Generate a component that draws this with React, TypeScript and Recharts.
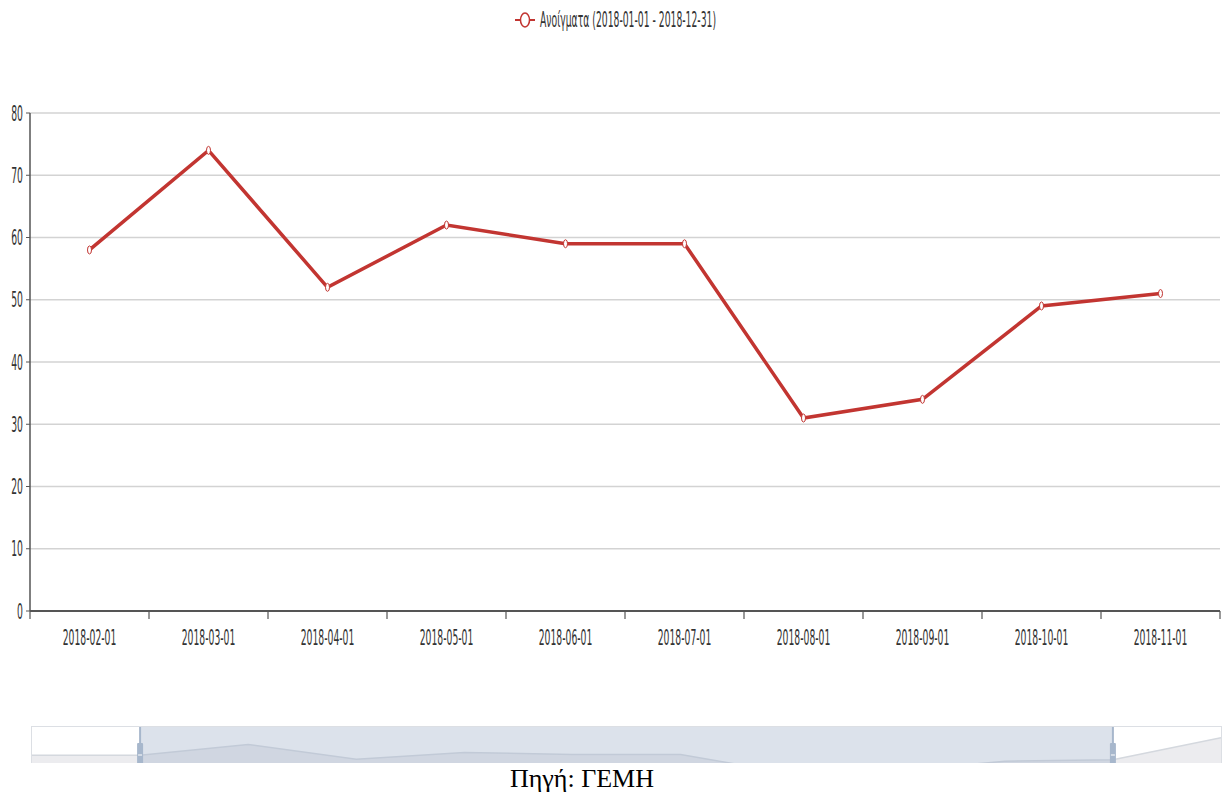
import React from "react";
import {
  LineChart,
  Line,
  XAxis,
  YAxis,
  CartesianGrid,
  Legend,
  AreaChart,
  Area,
  ReferenceArea,
  ReferenceLine,
} from "recharts";

const months = [
  "2018-01-01",
  "2018-02-01",
  "2018-03-01",
  "2018-04-01",
  "2018-05-01",
  "2018-06-01",
  "2018-07-01",
  "2018-08-01",
  "2018-09-01",
  "2018-10-01",
  "2018-11-01",
  "2018-12-01",
];
const openings = [58, 58, 74, 52, 62, 59, 59, 31, 34, 49, 51, 84];
const yTicks = [0, 10, 20, 30, 40, 50, 60, 70, 80];
const zoomStart = "2018-02-01";
const zoomEnd = "2018-11-01";

const allData = months.map((date, i) => ({ date, value: openings[i] }));
const shown = allData.slice(months.indexOf(zoomStart), months.indexOf(zoomEnd) + 1);

const RED = "#c23531";
const AXIS = "#555";
const FONT = "'DejaVu Sans', sans-serif";
const SQUASH = 0.44;

// the source screenshot is squeezed sideways, so text is narrowed the same way.
// tick marks sit on the band edges, the label in the middle of the band
const XTick = (p: any) => {
  const half = p.payload.offset || p.width / p.visibleTicksCount / 2;
  const last = p.index === p.visibleTicksCount - 1;
  return (
    <g>
      <line x1={p.x - half} y1={p.y} x2={p.x - half} y2={p.y + 8} stroke={AXIS} strokeWidth={1.2} />
      {last && (
        <line x1={p.x + half} y1={p.y} x2={p.x + half} y2={p.y + 8} stroke={AXIS} strokeWidth={1.2} />
      )}
      <text
        transform={`translate(${p.x},${p.y + 34}) scale(${SQUASH},1)`}
        textAnchor="middle"
        fill="#333"
        fontSize={21}
        fontFamily={FONT}
      >
        {p.payload.value}
      </text>
    </g>
  );
};

const YTick = (p: any) => (
  <text
    transform={`translate(${p.x},${p.y + 7.5}) scale(${SQUASH},1)`}
    textAnchor="end"
    fill="#333"
    fontSize={21}
    fontFamily={FONT}
  >
    {p.payload.value}
  </text>
);

const Dot = (p: any) =>
  p.cx == null ? null : (
    <ellipse key={p.index} cx={p.cx} cy={p.cy} rx={2} ry={4} fill="#fff" stroke={RED} strokeWidth={1} />
  );

const LegendContent = () => (
  <svg width={1224} height={34} style={{ display: "block" }}>
    <line x1={515} y1={20} x2={535} y2={20} stroke={RED} strokeWidth={2} />
    <ellipse cx={525} cy={20} rx={4.5} ry={7} fill="#fff" stroke={RED} strokeWidth={1.5} />
    <text
      transform={`translate(540,27) scale(${SQUASH},1)`}
      fill="#333"
      fontSize={21}
      fontFamily={FONT}
    >
      Ανοίγματα (2018-01-01 - 2018-12-31)
    </text>
  </svg>
);

const Handle = (p: any) => {
  const x = p.x1;
  return (
    <g>
      <line x1={x} y1={0} x2={x} y2={69} stroke="#a7b7cc" strokeWidth={2} />
      <rect x={x - 3} y={16} width={6} height={40} rx={1} fill="#a7b7cc" />
      <line x1={x - 2} y1={28} x2={x + 2} y2={28} stroke="#fff" />
      <line x1={x - 2} y1={39} x2={x + 2} y2={39} stroke="#fff" />
    </g>
  );
};

export default function App() {
  return (
    <div style={{ position: "absolute", left: 0, top: 0, width: 1224, height: 798, background: "#fff" }}>
      <LineChart
        width={1224}
        height={726}
        data={shown}
        margin={{ top: 79, right: 4, bottom: 85, left: 0 }}
      >
        <Legend
          verticalAlign="top"
          content={<LegendContent />}
          wrapperStyle={{ top: 0, left: 0, width: 1224 }}
        />
        <CartesianGrid vertical={false} stroke="#d3d3d3" strokeWidth={1.5} />
        <XAxis
          dataKey="date"
          scale="band"
          height={30}
          axisLine={{ stroke: AXIS, strokeWidth: 2 }}
          tickLine={false}
          tickSize={0}
          tickMargin={0}
          interval={0}
          tick={<XTick />}
        />
        <YAxis
          width={30}
          domain={[0, 80]}
          ticks={yTicks}
          tickSize={4}
          tickMargin={3}
          axisLine={{ stroke: AXIS, strokeWidth: 1.5 }}
          tickLine={{ stroke: AXIS }}
          tick={<YTick />}
        />
        <Line
          dataKey="value"
          type="linear"
          stroke={RED}
          strokeWidth={3.5}
          dot={<Dot />}
          isAnimationActive={false}
        />
      </LineChart>
      <div
        style={{
          position: "absolute",
          left: 31,
          top: 726,
          width: 1191,
          height: 69,
          boxSizing: "border-box",
          border: "1px solid #dcdfe4",
        }}
      >
        <AreaChart
          width={1189}
          height={67}
          data={allData}
          margin={{ top: 0, right: 0, bottom: 0, left: 0 }}
        >
          <XAxis dataKey="date" hide />
          <YAxis domain={[0, 100]} hide />
          <Area
            dataKey="value"
            type="linear"
            stroke="#d4d8de"
            strokeWidth={1.5}
            fill="#ececef"
            fillOpacity={1}
            isAnimationActive={false}
          />
          <ReferenceArea
            x1={zoomStart}
            x2={zoomEnd}
            fill="#a7b7cc"
            fillOpacity={0.4}
            stroke="none"
            ifOverflow="visible"
          />
          <ReferenceLine x={zoomStart} shape={Handle} ifOverflow="visible" />
          <ReferenceLine x={zoomEnd} shape={Handle} ifOverflow="visible" />
        </AreaChart>
      </div>
      <div
        style={{
          position: "absolute",
          left: 0,
          top: 763,
          width: 1224,
          height: 35,
          background: "#fff",
        }}
      >
        <div
          style={{
            position: "absolute",
            left: 510,
            top: 1,
            fontFamily: "'Liberation Serif', 'Times New Roman', serif",
            fontSize: 26,
            lineHeight: "30px",
            color: "#000",
            whiteSpace: "nowrap",
          }}
        >
          Πηγή: ΓΕΜΗ
        </div>
      </div>
    </div>
  );
}
